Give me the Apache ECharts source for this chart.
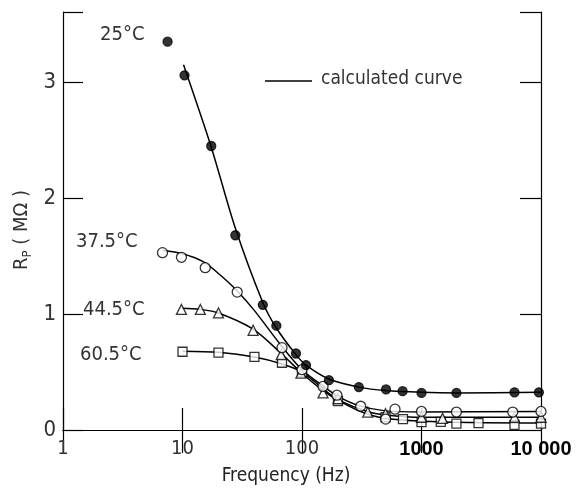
<!DOCTYPE html>
<html>
<head>
<meta charset="utf-8">
<script src="https://cdn.jsdelivr.net/npm/echarts@6/dist/echarts.min.js"></script>
<style>
html,body{margin:0;padding:0;background:#fff;}
#c{width:584px;height:491px;}
</style>
</head>
<body>
<div id="c"></div>
<script>
// ---- data (frequency Hz, Rp MΩ) ----
var xTicks = [1, 10, 100, 1000, 10000];
var yTicks = [0, 1, 2, 3];

var meas25 = [[7.5,3.35],[10.4,3.06],[17.4,2.45],[27.7,1.68],[47,1.08],[61,0.90],[89,0.66],[108,0.56],[168,0.43],[299,0.37],[505,0.35],[695,0.335],[1000,0.32],[1960,0.32],[6000,0.325],[9600,0.325]];
var calc25 = [[10.2,3.15],[17.4,2.44],[27.7,1.74],[47,1.10],[61,0.88],[89,0.65],[108,0.56],[168,0.44],[300,0.37],[500,0.34],[1000,0.325],[2000,0.32],[10000,0.325]];

var meas375 = [[6.8,1.53],[9.8,1.49],[15.5,1.40],[28.7,1.19],[68,0.71],[100,0.52],[150,0.376],[196,0.30],[310,0.205],[501,0.094],[600,0.18],[1000,0.16],[1960,0.155],[5800,0.155],[10000,0.16]];
var calc375 = [[6.8,1.55],[10,1.52],[15,1.45],[20,1.35],[28.7,1.20],[40,1.03],[68,0.72],[100,0.52],[150,0.38],[200,0.29],[300,0.21],[500,0.165],[1000,0.155],[10000,0.16]];

var meas445 = [[9.8,1.04],[14.1,1.04],[20,1.01],[39,0.86],[67,0.65],[98,0.49],[150,0.32],[200,0.27],[355,0.154],[500,0.14],[1000,0.11],[1500,0.10],[6000,0.11],[10000,0.11]];
var calc445 = [[9.8,1.05],[14,1.04],[20,1.01],[39,0.87],[67,0.66],[100,0.49],[150,0.34],[200,0.26],[350,0.16],[500,0.13],[1000,0.11],[10000,0.11]];

var meas605 = [[10,0.675],[20,0.667],[40,0.63],[68,0.58],[100,0.50],[200,0.25],[500,0.11],[700,0.094],[1000,0.068],[1450,0.07],[1960,0.055],[3000,0.06],[6000,0.045],[10000,0.055]];
var calc605 = [[10,0.68],[20,0.67],[40,0.63],[68,0.57],[100,0.50],[200,0.26],[400,0.12],[1000,0.075],[10000,0.06]];

var tempLabels = ['25°C', '37.5°C', '44.5°C', '60.5°C'];
var legendText = 'calculated curve';
var yTitle = '{r|R}{s|P}{r| ( MΩ )}';
var xTitle = 'Frequency (Hz)';

// ---- chart ----
var FONT = '"Liberation Sans Narrow", "DejaVu Sans Condensed", "Liberation Sans", sans-serif';
var chart = echarts.init(document.getElementById('c'));
var yMax = 3.606;

function xLabel(v) {
  if (v >= 1000) return '{b|' + (v === 10000 ? '10 000' : '1000') + '}';
  return '{n|' + v + '}';
}

function calcLine(d) {
  return {type:'line', data:d, smooth:0.3, showSymbol:false, silent:true,
    lineStyle:{color:'#000', width:1.5}, z:2};
}
function scat(d, sym, size, filled) {
  return {type:'scatter', data:d, symbol:sym, symbolSize:size, z:3,
    itemStyle:{color: filled ? '#000' : '#fff', borderColor:'#000', borderWidth:1.3}};
}

var option = {
  backgroundColor:'#fff',
  animation:false,
  grid:{left:63, right:43, top:12, bottom:56},
  xAxis:[
    {type:'log', logBase:10, min:1, max:10000, position:'bottom',
     axisLine:{lineStyle:{color:'#000', width:1.2}},
     axisTick:{inside:true, length:22, lineStyle:{color:'#000', width:1.2}},
     splitLine:{show:false}, minorTick:{show:false},
     axisLabel:{margin:9, formatter:xLabel, rich:{
       n:{fontFamily:FONT, fontSize:20, color:'#333'},
       b:{fontFamily:'"Liberation Sans", sans-serif', fontSize:20, color:'#000', fontWeight:'bold'}}},
     name:xTitle, nameLocation:'middle', nameGap:37,
     nameTextStyle:{fontFamily:FONT, fontSize:19, color:'#222', padding:[0,32,0,0]}},
    {type:'log', logBase:10, min:1, max:10000, position:'top',
     axisLine:{lineStyle:{color:'#000', width:1.2}},
     axisTick:{inside:true, length:23, lineStyle:{color:'#000', width:1.2}},
     axisLabel:{show:false}, splitLine:{show:false}}
  ],
  yAxis:[
    {type:'value', min:0, max:yMax, interval:1, position:'left',
     axisLine:{show:true, lineStyle:{color:'#000', width:1.2}},
     axisTick:{show:true, inside:true, length:20, lineStyle:{color:'#000', width:1.2}},
     splitLine:{show:false},
     axisLabel:{margin:7, fontFamily:FONT, fontSize:22, color:'#333',
       formatter:function(v){ return yTicks.indexOf(v) >= 0 ? String(v) : ''; }}},
    {type:'value', min:0, max:yMax, interval:1, position:'right',
     axisLine:{show:true, lineStyle:{color:'#000', width:1.2}},
     axisTick:{show:true, inside:true, length:21, lineStyle:{color:'#000', width:1.2}},
     axisLabel:{show:false}, splitLine:{show:false}}
  ],
  graphic:[
    {type:'text', x:22, y:230, rotation:Math.PI/2,
     style:{text:yTitle, align:'center', verticalAlign:'middle',
       rich:{r:{fontFamily:FONT, fontSize:20, fill:'#333'},
             s:{fontFamily:FONT, fontSize:13, fill:'#333', padding:[12,0,0,0]}}}},
    {type:'text', left:100, top:25, style:{text:tempLabels[0], font:'20px ' + FONT, fill:'#333'}},
    {type:'text', left:76, top:232, style:{text:tempLabels[1], font:'20px ' + FONT, fill:'#333'}},
    {type:'text', left:83, top:300, style:{text:tempLabels[2], font:'20px ' + FONT, fill:'#333'}},
    {type:'text', left:80, top:345, style:{text:tempLabels[3], font:'20px ' + FONT, fill:'#333'}},
    {type:'line', shape:{x1:265, y1:81, x2:312, y2:81}, style:{stroke:'#000', lineWidth:1.5}},
    {type:'text', left:321, top:70, style:{text:legendText, font:'19px ' + FONT, fill:'#333'}}
  ],
  series:[
    calcLine(calc25), calcLine(calc375), calcLine(calc445), calcLine(calc605),
    scat(meas605, 'rect', 9, false),
    scat(meas445, 'triangle', 10, false),
    scat(meas375, 'circle', 10, false),
    scat(meas25, 'circle', 9, true)
  ]
};
chart.setOption(option);
</script>
</body>
</html>
